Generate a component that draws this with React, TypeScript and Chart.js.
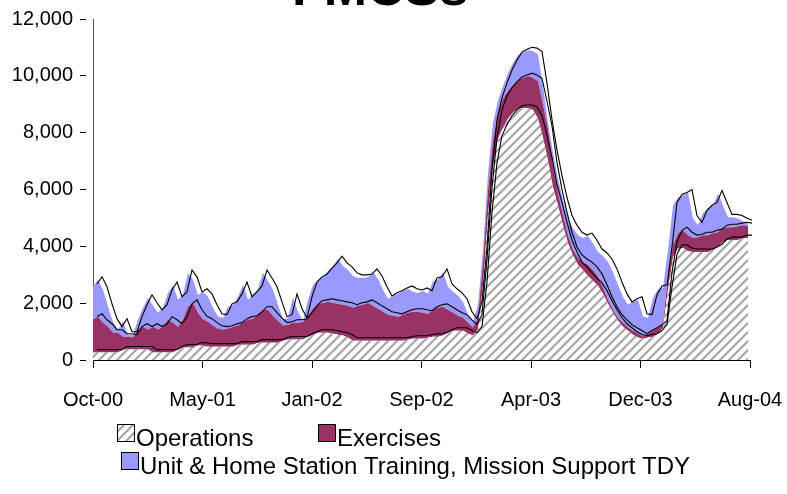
import React, { useEffect, useRef } from 'react';
import { Chart, registerables } from 'chart.js';

Chart.register(...registerables);

const TITLE = 'FMCSs';
const X_TICK_LABELS = ['Oct-00', 'May-01', 'Jan-02', 'Sep-02', 'Apr-03', 'Dec-03', 'Aug-04'];
const Y_MIN = 0;
const Y_MAX = 12000;
const Y_STEP = 2000;
const SERIES_LABELS = ['Operations', 'Exercises', 'Unit & Home Station Training, Mission Support TDY'];

// Operations (bottom, hatched)
const operations = [
  260, 260, 260, 260, 260, 260, 370, 370, 370, 370,
  370, 370, 260, 260, 260, 260, 260, 370, 440, 440,
  440, 510, 500, 470, 470, 470, 470, 470, 470, 540,
  540, 540, 540, 610, 610, 610, 610, 610, 680, 720,
  720, 720, 720, 820, 890, 960, 960, 960, 930, 890,
  860, 790, 680, 680, 680, 680, 680, 680, 680, 680,
  680, 680, 680, 720, 750, 750, 750, 790, 820, 820,
  860, 960, 1030, 1030, 1030, 930, 860, 1070, 2640, 5090,
  6840, 7790, 8170, 8490, 8700, 8840, 8870, 8870, 8800, 8490,
  7820, 7020, 6070, 5440, 4740, 4110, 3690, 3340, 3170, 2960,
  2780, 2610, 2330, 1980, 1660, 1380, 1170, 1030, 890, 790,
  750, 790, 820, 930, 1140, 2470, 3620, 3940, 3940, 3830,
  3800, 3800, 3800, 3800, 3870, 3970, 4150, 4220, 4220, 4220,
  4290, 4290,
];

// Exercises (middle, maroon)
const exercises = [
  1160, 1260, 1050, 910, 700, 700, 450, 450, 420, 700,
  800, 700, 910, 810, 910, 1160, 1050, 800, 980, 1430,
  1570, 1150, 930, 880, 740, 630, 600, 630, 700, 670,
  810, 880, 910, 980, 1160, 1160, 950, 770, 530, 520,
  590, 590, 620, 740, 910, 1020, 1050, 1090, 1080, 1090,
  1080, 1120, 1160, 1230, 1260, 1330, 1230, 1120, 1020, 910,
  880, 840, 910, 940, 950, 950, 910, 840, 950, 1020,
  1010, 810, 630, 530, 460, 380, 280, 420, 810, 870,
  880, 910, 1020, 980, 980, 1010, 1050, 1120, 1120, 1320,
  1180, 1110, 770, 450, 350, 280, 180, 250, 280, 380,
  390, 310, 210, 140, 110, 110, 140, 110, 140, 140,
  70, 140, 210, 210, 140, 520, 420, 520, 630, 560,
  490, 520, 590, 590, 590, 530, 490, 450, 450, 490,
  450, 420,
];

// Unit & Home Station Training, Mission Support TDY (top, lavender)
const training = [
  1150, 1300, 1160, 700, 390, 110, 530, 70, 100, 350,
  670, 1120, 740, 590, 670, 940, 1330, 950, 870, 1190,
  810, 630, 970, 870, 630, 420, 420, 770, 770, 1010,
  1290, 700, 840, 910, 1290, 1010, 910, 560, 210, 250,
  910, 390, 40, 560, 840, 840, 910, 1080, 1300, 1570,
  1370, 1260, 1120, 980, 950, 910, 1190, 1050, 770, 560,
  700, 810, 840, 840, 700, 660, 770, 700, 1010, 980,
  1230, 800, 740, 700, 560, 280, 210, 450, 420, 600,
  630, 420, 450, 630, 770, 880, 910, 910, 950, 940,
  640, 220, 450, 490, 530, 590, 770, 800, 840, 1020,
  940, 880, 1120, 1330, 1330, 1150, 910, 800, 1020, 1190,
  700, 560, 1160, 1360, 1260, 880, 1400, 1260, 1220, 1500,
  690, 420, 770, 950, 980, 1360, 800, 350, 350, 270,
  140, 100,
];

const POINT_INDEX = operations.map((_, i) => i);
const X_MAX = 131.4;

function makeHatch(): CanvasPattern | string {
  const s = 9;
  const c = document.createElement('canvas');
  c.width = s;
  c.height = s;
  const g = c.getContext('2d');
  if (!g) return '#cccccc';
  g.fillStyle = '#ffffff';
  g.fillRect(0, 0, s, s);
  g.strokeStyle = '#a6a6a6';
  g.lineWidth = 2.2;
  g.beginPath();
  g.moveTo(-1, 1); g.lineTo(1, -1);
  g.moveTo(0, s); g.lineTo(s, 0);
  g.moveTo(s - 1, s + 1); g.lineTo(s + 1, s - 1);
  g.stroke();
  const p = g.createPattern(c, 'repeat');
  return p || '#cccccc';
}

const FONT = '"Liberation Sans", Arial, Helvetica, sans-serif';

const shiftPlugin = {
  id: 'shiftOutline',
  beforeDatasetDraw(chart: any, args: any) {
    const ds = chart.data.datasets[args.index];
    if (ds && ds.outline) {
      chart.ctx.save();
      chart.ctx.translate(4, -3);
    }
  },
  afterDatasetDraw(chart: any, args: any) {
    const ds = chart.data.datasets[args.index];
    if (ds && ds.outline) chart.ctx.restore();
  },
};

const titlePlugin = {
  id: 'clippedTitle',
  afterDraw(chart: any) {
    const ctx = chart.ctx;
    ctx.save();
    ctx.font = `bold 52px ${FONT}`;
    ctx.fillStyle = '#000';
    ctx.textAlign = 'center';
    ctx.textBaseline = 'alphabetic';
    ctx.fillText(TITLE, 380, 5);
    ctx.restore();
  },
};

const legendPlugin = {
  id: 'customLegend',
  afterDraw(chart: any) {
    const ctx = chart.ctx;
    const spots = [
      { ds: 0, x: 117, y: 424 },
      { ds: 1, x: 318, y: 424 },
      { ds: 2, x: 121, y: 452 },
    ];
    ctx.save();
    ctx.font = `24px ${FONT}`;
    ctx.textAlign = 'left';
    ctx.textBaseline = 'alphabetic';
    for (const s of spots) {
      const ds = chart.data.datasets[s.ds];
      ctx.fillStyle = ds.backgroundColor;
      ctx.fillRect(s.x, s.y, 18, 18);
      ctx.strokeStyle = '#000';
      ctx.lineWidth = 1;
      ctx.strokeRect(s.x + 0.5, s.y + 0.5, 17, 17);
      ctx.fillStyle = '#000';
      ctx.fillText(ds.label, s.x + 19, s.y + 22);
    }
    ctx.restore();
  },
};

export default function App() {
  const ref = useRef<HTMLCanvasElement | null>(null);

  useEffect(() => {
    const canvas = ref.current;
    if (!canvas) return;
    const hatch = makeHatch();
    const area = (label: string, data: number[], color: any, fill: any) => ({
      label,
      data,
      backgroundColor: color,
      borderColor: 'rgba(0,0,0,0)',
      borderWidth: 0,
      pointRadius: 0,
      fill,
      stack: 'area',
      tension: 0,
      order: 1,
    });
    const outline = (label: string, data: number[]) => ({
      label,
      data,
      outline: true,
      backgroundColor: 'rgba(0,0,0,0)',
      borderColor: '#000000',
      borderWidth: 1.1,
      pointRadius: 0,
      fill: false,
      stack: 'outline',
      tension: 0,
      order: 0,
      clip: false,
    });

    const chart = new Chart(canvas, {
      type: 'line',
      data: {
        labels: POINT_INDEX,
        datasets: [
          area(SERIES_LABELS[0], operations, hatch, 'origin'),
          area(SERIES_LABELS[1], exercises, '#993366', '-1'),
          area(SERIES_LABELS[2], training, '#9999ff', '-1'),
          outline(SERIES_LABELS[0], operations),
          outline(SERIES_LABELS[1], exercises),
          outline(SERIES_LABELS[2], training),
        ] as any,
      },
      options: {
        animation: false,
        responsive: false,
        devicePixelRatio: 1,
        layout: { padding: { top: 17, right: 37, left: 0, bottom: 0 } },
        plugins: {
          legend: { display: false },
          title: { display: false },
          tooltip: { enabled: false },
        },
        scales: {
          x: {
            type: 'linear',
            min: 0,
            max: X_MAX,
            afterFit: (scale: any) => {
              scale.height = 134;
              scale.paddingLeft = 0;
              scale.paddingRight = 0;
            },
            afterBuildTicks: (scale: any) => {
              scale.ticks = X_TICK_LABELS.map((_, k) => ({ value: (k * X_MAX) / (X_TICK_LABELS.length - 1) }));
            },
            grid: {
              display: true,
              drawOnChartArea: false,
              drawTicks: true,
              tickLength: 8,
              tickColor: '#000',
              color: '#000',
            },
            border: { display: true, color: '#000', width: 1 },
            ticks: {
              autoSkip: false,
              maxRotation: 0,
              minRotation: 0,
              padding: 20,
              color: '#000',
              font: { family: FONT, size: 20 },
              callback: (_v: any, i: number) => X_TICK_LABELS[i],
            },
          },
          y: {
            stacked: true,
            min: Y_MIN,
            max: Y_MAX,
            afterFit: (scale: any) => { scale.width = 93; },
            grid: {
              display: true,
              drawOnChartArea: false,
              drawTicks: true,
              tickLength: 13,
              tickColor: '#000',
              tickBorderDash: [6, 30],
              color: '#000',
            },
            border: { display: true, color: '#555', width: 1 },
            ticks: {
              stepSize: Y_STEP,
              padding: 7,
              color: '#000',
              font: { family: FONT, size: 20 },
              callback: (v: any) => Number(v).toLocaleString('en-US'),
            },
          },
        },
      } as any,
      plugins: [shiftPlugin, titlePlugin, legendPlugin],
    });
    return () => chart.destroy();
  }, []);

  return (
    <div style={{ position: 'absolute', left: 0, top: 0, width: 787, height: 494, background: '#fff' }}>
      <canvas ref={ref} width={787} height={494} style={{ width: 787, height: 494, display: 'block' }} />
    </div>
  );
}
